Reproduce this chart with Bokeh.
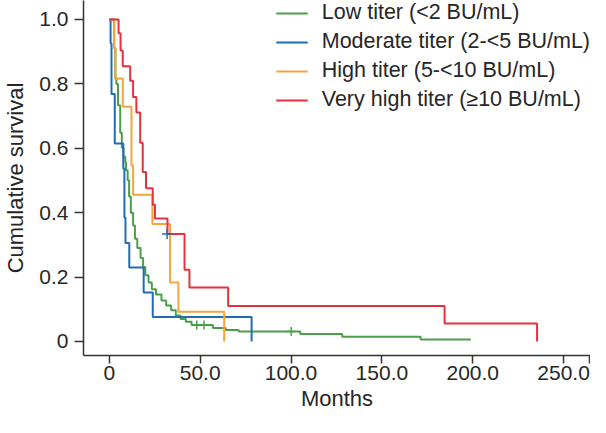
from bokeh.plotting import figure
from bokeh.models import Range1d, FixedTicker, Legend, LegendItem
from bokeh.embed import file_html
from bokeh.resources import INLINE

# ---- data ----
low_t = [0, 2.7, 3.35, 3.9, 4.8, 6.0, 6.9, 7.8, 8.8, 9.2, 10.1, 10.9, 11.85, 13.1, 14.1,
         15.4, 17.2, 18.6, 19.8, 21.6, 23.4, 25.7, 28.7, 31.3, 34.0, 36.6, 39.2, 42.1,
         45.3, 57.0, 64.1, 71.2, 105.1, 128.2, 171.3, 198.9]
low_s = [1.0, 0.911, 0.817, 0.80, 0.734, 0.648, 0.602, 0.574, 0.557, 0.532, 0.501, 0.450,
         0.400, 0.360, 0.319, 0.290, 0.259, 0.231, 0.206, 0.183, 0.162, 0.146, 0.127, 0.112,
         0.097, 0.081, 0.070, 0.061, 0.051, 0.042, 0.036, 0.031, 0.023, 0.015, 0.006, 0.006]
low_cens_t = [48.1, 52.1, 100.1]
low_cens_s = [0.051, 0.051, 0.031]

mod_t = [0, 0.7, 1.2, 3.0, 7.7, 8.3, 8.9, 11.0, 18.9, 23.9, 78.3]
mod_s = [1.0, 0.926, 0.769, 0.615, 0.537, 0.385, 0.306, 0.230, 0.152, 0.076, 0.0]
mod_cens_t = [31.8]
mod_cens_s = [0.334]

high_t = [0, 2.66, 3.35, 7.44, 12.2, 13.1, 23.7, 33.4, 38.0, 63.2]
high_s = [1.0, 0.911, 0.817, 0.729, 0.547, 0.456, 0.365, 0.183, 0.092, 0.0]

vhigh_t = [0, 5.1, 6.2, 7.4, 11.5, 13.1, 14.9, 17.0, 18.4, 20.2, 23.9, 25.1, 32.0,
           41.4, 44.1, 65.4, 184.5, 235.4]
vhigh_s = [1.0, 0.957, 0.904, 0.855, 0.810, 0.759, 0.711, 0.617, 0.526, 0.476, 0.425,
           0.382, 0.334, 0.223, 0.168, 0.110, 0.056, 0.0]

labels = ["Low titer (<2 BU/mL)", "Moderate titer (2-<5 BU/mL)",
          "High titer (5-<10 BU/mL)", "Very high titer (\u226510 BU/mL)"]
colors = ["#4c9f48", "#1f6cb4", "#f6a53e", "#e2323f"]

x_ticks = [0, 50, 100, 150, 200, 250, 264.2]
x_tick_labels = ["0", "50.0", "100.0", "150.0", "200.0", "250.0", ""]
y_ticks = [0, 0.2, 0.4, 0.6, 0.8, 1.0]
y_tick_labels = ["0", "0.2", "0.4", "0.6", "0.8", "1.0"]
x_title = "Months"
y_title = "Cumulative survival"

FONT = "Liberation Sans"
TXT = "#262626"
AX = "#333333"

p = figure(width=590, height=417, output_backend="svg", toolbar_location=None,
           x_range=Range1d(-14.2, 264.8), y_range=Range1d(-0.0435, 1.059),
           min_border_left=80, min_border_right=0, min_border_top=0, min_border_bottom=62)
p.outline_line_color = None
p.xgrid.visible = False
p.ygrid.visible = False
p.background_fill_color = "white"

renderers = []
for t, s, c in [(low_t, low_s, colors[0]), (mod_t, mod_s, colors[1]),
                (high_t, high_s, colors[2]), (vhigh_t, vhigh_s, colors[3])]:
    r = p.step(t, s, mode="after", line_color=c, line_width=2)
    renderers.append(r)

p.scatter(low_cens_t, low_cens_s, marker="cross", size=9, line_color=colors[0], line_width=1.5)
p.scatter(mod_cens_t, mod_cens_s, marker="cross", size=10, line_color=colors[1], line_width=1.5)

legend = Legend(items=[LegendItem(label=l, renderers=[r]) for l, r in zip(labels, renderers)],
                location="top_right", margin=0, padding=0, spacing=4,
                glyph_width=32, glyph_height=20, label_height=20, label_standoff=14,
                label_text_font=FONT, label_text_font_size="21.5px", label_text_color=TXT,
                border_line_color=None, background_fill_alpha=0)
p.add_layout(legend)

p.xaxis.ticker = FixedTicker(ticks=x_ticks)
p.xaxis.major_label_overrides = {k: v for k, v in zip(x_ticks, x_tick_labels)}
p.yaxis.ticker = FixedTicker(ticks=y_ticks)
p.yaxis.major_label_overrides = {k: v for k, v in zip(y_ticks, y_tick_labels)}

for ax in (p.xaxis[0], p.yaxis[0]):
    ax.axis_line_color = AX
    ax.axis_line_width = 1.5
    ax.major_tick_line_color = AX
    ax.major_tick_line_width = 1.5
    ax.major_tick_in = 0
    ax.minor_tick_line_color = None
    ax.major_label_text_font = FONT
    ax.major_label_text_font_size = "21px"
    ax.major_label_text_color = TXT
    ax.axis_label_text_font = FONT
    ax.axis_label_text_font_size = "22px"
    ax.axis_label_text_font_style = "normal"
    ax.axis_label_text_color = TXT

p.xaxis.major_tick_out = 8
p.yaxis.major_tick_out = 9
p.xaxis.major_label_standoff = 2
p.yaxis.major_label_standoff = 6
p.xaxis.axis_label = x_title
p.yaxis.axis_label = y_title
p.xaxis.axis_label_standoff = 3
p.yaxis.axis_label_standoff = 8

open("out.html", "w").write(file_html(p, INLINE))
